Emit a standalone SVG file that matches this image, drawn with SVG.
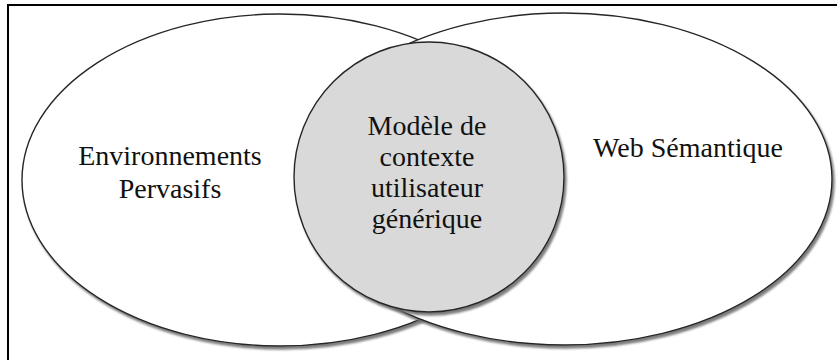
<svg xmlns="http://www.w3.org/2000/svg" width="837" height="360" viewBox="0 0 837 360">
  <style>
    .frame { fill: #ffffff; stroke: #000000; stroke-width: 2; }
    .set { fill: #ffffff; stroke: #262626; stroke-width: 1.4; filter: url(#shadow); }
    .core { fill: #d9d9d9; stroke: #262626; stroke-width: 1.4; filter: url(#shadow); }
    .label { font-family: "Liberation Serif", "Times New Roman", serif; font-size: 28px; fill: #111111; text-anchor: middle; }
  </style>
  <defs>
    <filter id="shadow" x="-5%" y="-5%" width="115%" height="115%">
      <feDropShadow dx="2" dy="3" stdDeviation="0.8" flood-color="#6e6e6e" flood-opacity="0.9"/>
    </filter>
  </defs>

  <!-- outer frame (runs past the lower and right edges) -->
  <rect class="frame" x="8" y="5" width="840" height="370"/>

  <g id="pervasive-environments">
    <ellipse class="set" cx="280" cy="180" rx="258" ry="166"/>
  </g>

  <g id="semantic-web">
    <ellipse class="set" cx="564" cy="179" rx="268" ry="166"/>
  </g>

  <g id="user-context-model">
    <circle class="core" cx="429" cy="177" r="135"/>
  </g>

  <g id="labels">
    <text class="label" x="170" y="165">Environnements</text>
    <text class="label" x="170" y="198">Pervasifs</text>
    <text class="label" x="688" y="157">Web Sémantique</text>
    <text class="label" x="427" y="135">Modèle de</text>
    <text class="label" x="427" y="166">contexte</text>
    <text class="label" x="427" y="197">utilisateur</text>
    <text class="label" x="427" y="228">générique</text>
  </g>

  <g id="connectors"/>
</svg>
